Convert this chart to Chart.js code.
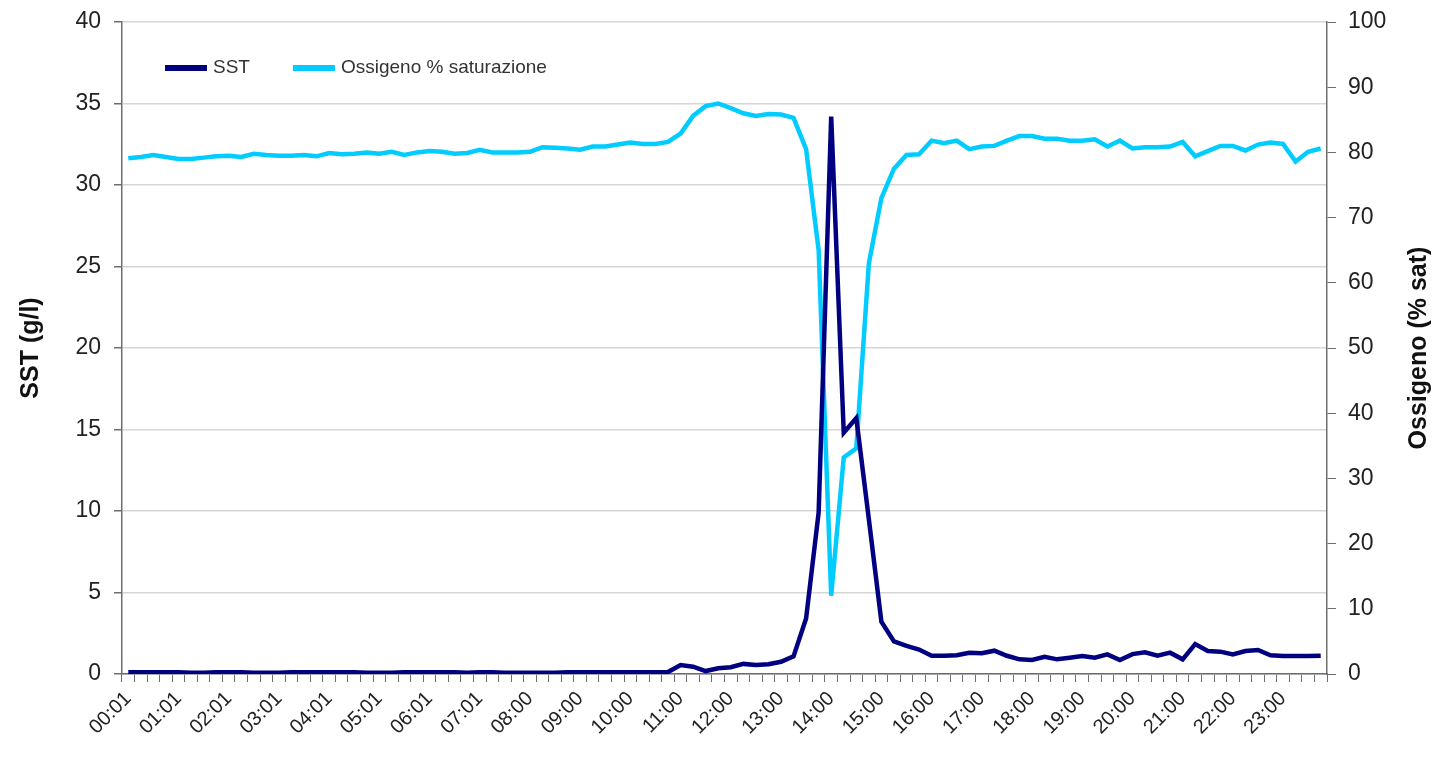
<!DOCTYPE html>
<html>
<head>
<meta charset="utf-8">
<script src="https://cdn.jsdelivr.net/npm/chart.js@4/dist/chart.umd.min.js"></script>
<style>
    html, body { margin: 0; padding: 0; background: #fff; }
    canvas { display: block; }
</style>
</head>
<body>
<canvas id="sstChart" width="1438" height="761"></canvas>
<script>
// Hour labels shown on the x axis (one every 4 samples, 15 min step)
const hourLabels = [
    '00:01', '01:01', '02:01', '03:01', '04:01', '05:01', '06:01', '07:01',
    '08:00', '09:00', '10:00', '11:00', '12:00', '13:00', '14:00', '15:00',
    '16:00', '17:00', '18:00', '19:00', '20:00', '21:00', '22:00', '23:00'
];

// SST (g/l), 4 readings per hour
const sstValues = [
    0.1, 0.1, 0.1, 0.1,
    0.1, 0.08, 0.08, 0.1,
    0.1, 0.1, 0.08, 0.08,
    0.08, 0.1, 0.1, 0.1,
    0.1, 0.1, 0.1, 0.08,
    0.08, 0.08, 0.1, 0.1,
    0.1, 0.1, 0.1, 0.08,
    0.1, 0.1, 0.08, 0.08,
    0.08, 0.08, 0.08, 0.1,
    0.1, 0.1, 0.1, 0.1,
    0.1, 0.1, 0.1, 0.12,
    0.55, 0.45, 0.18, 0.35,
    0.42, 0.62, 0.55, 0.6,
    0.75, 1.08, 3.4, 9.9,
    34.2, 14.8, 15.7, 9.5,
    3.2, 2.0, 1.72, 1.5,
    1.12, 1.12, 1.15, 1.3,
    1.27, 1.43, 1.12, 0.9,
    0.86, 1.06, 0.9, 1.0,
    1.1, 1.0, 1.2, 0.86,
    1.22, 1.33, 1.12, 1.31,
    0.9, 1.84, 1.41, 1.37,
    1.2, 1.41, 1.47, 1.15,
    1.1, 1.1, 1.1, 1.12
];

// Ossigeno % saturazione
const oxygenValues = [
    79.1, 79.3, 79.6, 79.3,
    79.0, 79.0, 79.2, 79.4,
    79.5, 79.3, 79.8, 79.6,
    79.5, 79.5, 79.6, 79.4,
    79.9, 79.7, 79.8, 80.0,
    79.8, 80.1, 79.6, 80.0,
    80.2, 80.1, 79.8, 79.9,
    80.4, 80.0, 80.0, 80.0,
    80.1, 80.8, 80.7, 80.6,
    80.4, 80.9, 80.9, 81.2,
    81.5, 81.3, 81.3, 81.6,
    82.9, 85.6, 87.1, 87.5,
    86.8, 86.0, 85.6, 85.9,
    85.8, 85.3, 80.5, 65.0,
    12.0, 33.2, 34.6, 63.0,
    73.0, 77.5, 79.6, 79.7,
    81.8, 81.4, 81.8, 80.5,
    80.9, 81.0, 81.8, 82.5,
    82.5, 82.1, 82.1, 81.8,
    81.8, 82.0, 80.9, 81.8,
    80.6, 80.8, 80.8, 80.9,
    81.6, 79.4, 80.2, 81.0,
    81.0, 80.3, 81.2, 81.5,
    81.3, 78.6, 80.1, 80.6
];

// one category per reading, only the first of each hour carries a label
const categories = hourLabels.flatMap(h => [h, '', '', '']);

const axisColor = '#6e6e6e';
const textColor = '#222';
const fontFamily = '"Liberation Sans", Arial, sans-serif';

// right axis title reads bottom-to-top like the left one
const rightTitle = {
    id: 'rightTitle',
    afterDraw(chart) {
        const { ctx, chartArea } = chart;
        const scale = chart.scales.y2;
        ctx.save();
        ctx.translate(scale.right - 19, (chartArea.top + chartArea.bottom) / 2);
        ctx.rotate(-Math.PI / 2);
        ctx.font = 'bold 25px ' + fontFamily;
        ctx.fillStyle = '#111';
        ctx.textAlign = 'center';
        ctx.textBaseline = 'middle';
        ctx.fillText('Ossigeno (% sat)', 0, 0);
        ctx.restore();
    }
};

// legend in one row inside the plot, top left
const innerLegend = {
    id: 'innerLegend',
    afterDatasetsDraw(chart) {
        const { ctx, chartArea } = chart;
        let x = chartArea.left + 43;
        const y = chartArea.top + 46;
        ctx.save();
        ctx.font = '19px ' + fontFamily;
        ctx.textBaseline = 'middle';
        chart.data.datasets.forEach(ds => {
            ctx.fillStyle = ds.borderColor;
            ctx.fillRect(x, y - 3, 42, 6);
            x += 48;
            ctx.fillStyle = '#333';
            ctx.fillText(ds.label, x, y);
            x += ctx.measureText(ds.label).width + 43;
        });
        ctx.restore();
    }
};

// let the layout padding alone decide where the plot starts
function fixWidth(w) {
    return scale => {
        scale.width = w;
        scale.paddingTop = 0;
        scale.paddingBottom = 0;
    };
}

new Chart(document.getElementById('sstChart').getContext('2d'), {
    type: 'line',
    data: {
        labels: categories,
        datasets: [
            {
                label: 'SST',
                data: sstValues,
                yAxisID: 'y',
                borderColor: '#000080',
                borderWidth: 4.5,
                pointRadius: 0,
                tension: 0,
                fill: false
            },
            {
                label: 'Ossigeno % saturazione',
                data: oxygenValues,
                yAxisID: 'y2',
                borderColor: '#00ccff',
                borderWidth: 4.5,
                pointRadius: 0,
                tension: 0,
                fill: false
            }
        ]
    },
    options: {
        responsive: false,
        animation: false,
        layout: { padding: { top: 22, left: 0, right: 0, bottom: 0 } },
        plugins: {
            tooltip: { enabled: false },
            legend: { display: false }
        },
        scales: {
            x: {
                offset: true,
                grid: {
                    offset: true,
                    drawOnChartArea: false,
                    tickLength: 8,
                    tickColor: axisColor
                },
                border: { color: axisColor, width: 1.5 },
                ticks: {
                    autoSkip: false,
                    minRotation: 45,
                    maxRotation: 45,
                    padding: 5,
                    color: textColor,
                    font: { family: fontFamily, size: 20 }
                },
                afterFit: scale => { scale.height = 87; }
            },
            y: {
                position: 'left',
                min: 0,
                max: 40,
                ticks: {
                    stepSize: 5,
                    padding: 13,
                    color: textColor,
                    font: { family: fontFamily, size: 23 }
                },
                grid: {
                    color: '#d6d6d6',
                    lineWidth: 1.5,
                    tickLength: 8,
                    tickColor: axisColor
                },
                border: { color: axisColor, width: 1.5 },
                title: {
                    display: true,
                    text: 'SST (g/l)',
                    color: '#111',
                    padding: { top: 16, bottom: 0 },
                    font: { family: fontFamily, size: 25, weight: 'bold' }
                },
                afterFit: fixWidth(122)
            },
            y2: {
                position: 'right',
                min: 0,
                max: 100,
                ticks: {
                    stepSize: 10,
                    padding: 12,
                    color: textColor,
                    font: { family: fontFamily, size: 23 }
                },
                grid: {
                    drawOnChartArea: false,
                    tickLength: 9,
                    tickColor: axisColor
                },
                border: { color: axisColor, width: 1.5 },
                afterFit: fixWidth(111)
            }
        }
    },
    plugins: [rightTitle, innerLegend]
});
</script>
</body>
</html>
